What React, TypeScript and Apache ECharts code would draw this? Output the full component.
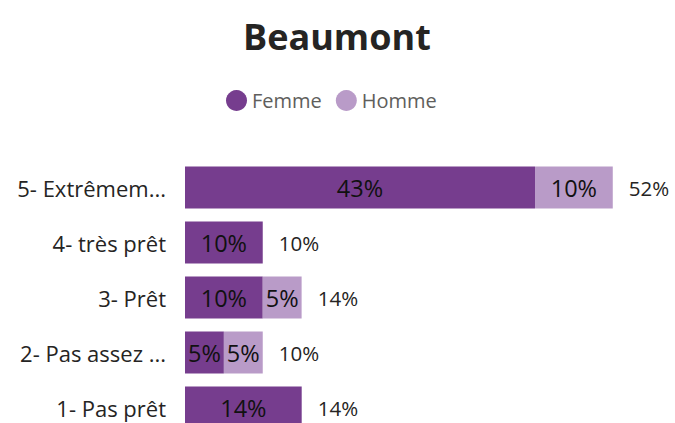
import React, { useEffect, useRef } from "react";
import * as echarts from "echarts";

const categories = ["5- Extrêmem...", "4- très prêt", "3- Prêt", "2- Pas assez ...", "1- Pas prêt"];
const femme = [42.86, 9.52, 9.52, 4.76, 14.29];
const homme = [9.52, 0, 4.76, 4.76, 0];
const totals = [52.38, 9.52, 14.29, 9.52, 14.29];

const FONT = "Open Sans";

export default function App() {
  const ref = useRef<HTMLDivElement>(null);
  useEffect(() => {
    document.body.style.margin = "0";
    document.body.style.overflow = "hidden";
    const chart = echarts.init(ref.current!, null, { renderer: "svg" });
    const pct = (v: number) => (v ? Math.round(v) + "%" : "");
    chart.setOption({
      animation: false,
      title: {
        text: "Beaumont",
        left: 238,
        top: 13,
        textStyle: { fontFamily: FONT, fontSize: 36, fontWeight: "bold", color: "#252423" },
      },
      legend: {
        data: ["Femme", "Homme"],
        left: 221,
        top: 85,
        icon: "circle",
        itemWidth: 21,
        itemHeight: 21,
        itemGap: 14,
        textStyle: { fontFamily: FONT, fontSize: 20, color: "#605E5C" },
      },
      grid: { left: 185, right: 0, top: 160, bottom: 5, containLabel: false },
      xAxis: { type: "value", min: 0, max: 60, show: false },
      yAxis: {
        type: "category",
        data: categories,
        inverse: true,
        axisLine: { show: false },
        axisTick: { show: false },
        axisLabel: { fontFamily: FONT, fontSize: 22, color: "#252423", margin: 19 },
      },
      series: [
        {
          name: "total",
          type: "bar",
          data: totals,
          barWidth: 42,
          barGap: "-100%",
          itemStyle: { color: "rgba(0,0,0,0)" },
          label: {
            show: true,
            position: "right",
            distance: 16,
            formatter: (p: any) => pct(p.value),
            fontFamily: FONT,
            fontSize: 20.5,
            color: "#252423",
          },
          silent: true,
          z: 1,
        },
        {
          name: "Femme",
          type: "bar",
          stack: "s",
          data: femme,
          barWidth: 42,
          itemStyle: { color: "#763D8E" },
          label: {
            show: true,
            position: "inside",
            formatter: (p: any) => pct(p.value),
            fontFamily: FONT,
            fontSize: 23.5,
            color: "#111",
          },
          z: 2,
        },
        {
          name: "Homme",
          type: "bar",
          stack: "s",
          data: homme,
          barWidth: 42,
          itemStyle: { color: "#B99BC8" },
          label: {
            show: true,
            position: "inside",
            formatter: (p: any) => pct(p.value),
            fontFamily: FONT,
            fontSize: 23.5,
            color: "#111",
          },
          z: 2,
        },
      ],
    });
    return () => chart.dispose();
  }, []);
  return <div ref={ref} style={{ width: 675, height: 440 }} />;
}
